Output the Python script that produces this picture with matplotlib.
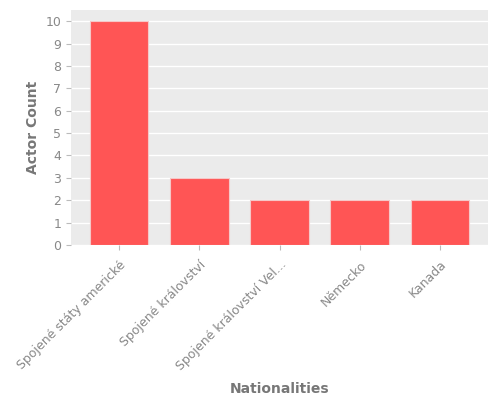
import matplotlib
matplotlib.use("Agg")
import matplotlib.pyplot as plt

categories = ["Spojené státy americké", "Spojené království", "Spojené království Vel...", "Německo", "Kanada"]
counts = [10, 3, 2, 2, 2]

plt.style.use("ggplot")
fig = plt.figure(figsize=(5, 4), dpi=100)
ax = fig.add_axes([0.142, 0.3875, 0.834, 0.5875])
ax.set_facecolor("#EBEBEB")
ax.bar(range(len(categories)), counts, width=0.73, color="#FF5555", edgecolor="#F5C8C8", linewidth=0.8, zorder=3)
ax.grid(False)
ax.yaxis.grid(True, color="white", linewidth=1, zorder=0)
ax.set_axisbelow(True)
ax.set_xticks(range(len(categories)))
ax.set_xticklabels(categories, rotation=45, ha="right", rotation_mode="anchor", fontsize=9, color="#888888")
ax.set_yticks(range(0, 11))
ax.tick_params(axis="y", labelsize=9, labelcolor="#888888", color="#BBBBBB")
ax.tick_params(axis="x", color="#BBBBBB", pad=6)
ax.set_ylim(0, 10.5)
for s in ax.spines.values():
    s.set_visible(False)
ax.set_xlabel("Nationalities", fontsize=10, fontweight="bold", color="#777777", labelpad=6)
ax.set_ylabel("Actor Count", fontsize=10, fontweight="bold", color="#777777", labelpad=4)
fig.savefig("out.png", dpi=100)
